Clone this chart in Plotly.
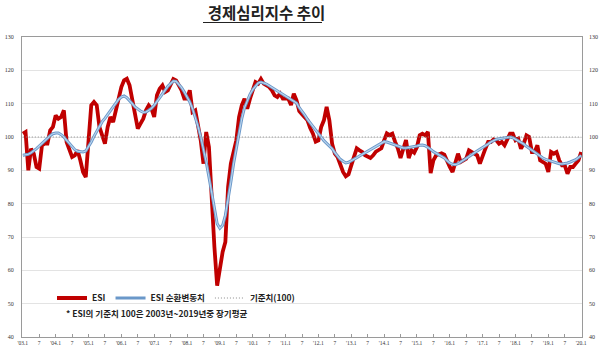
import plotly.graph_objects as go

# Monthly data, 2003.01 .. 2020.01
start_year = 2003
end_year = 2020

esi = [
    101, 101.5, 90, 96.5, 95, 91, 90.5, 97.5, 98, 98, 102, 103,          # 2003
    106.5, 105.5, 106, 108, 98.5, 96, 94, 94.5, 96, 93, 89.5, 88,        # 2004
    100, 109.5, 110.5, 109.5, 103, 100, 98, 103, 106, 104.5, 108, 111.5, # 2005
    115, 117, 117.5, 115.5, 111, 107, 102.5, 104, 105.5, 108, 109.5, 108.5,  # 2006
    106, 112.5, 114.5, 115.5, 113.5, 114, 115.5, 117.4, 117, 115.5, 114, 111.5,  # 2007
    111.5, 114, 107.5, 108, 104, 99, 92, 101.5, 97, 81, 67, 55.4,        # 2008
    61.5, 65.5, 68.5, 85, 92, 96, 99, 106, 109.5, 111.5, 108.5, 111.5,   # 2009
    114.5, 116.5, 116, 117.4, 116, 115.5, 115, 114, 112.5, 112, 113, 111.5,  # 2010
    111.5, 111.5, 109.6, 113, 111, 107.8, 106.8, 106, 105, 102.7, 101, 98.6,  # 2011
    99, 103, 105, 109, 105, 98, 95, 94, 91.5, 89.5, 88.2, 88.8,          # 2012
    91.5, 94, 96.6, 96, 95.5, 94.5, 94.2, 93.7, 94.5, 95.6, 96.1, 96.6,  # 2013
    99, 101.1, 100.6, 101, 98.6, 96.6, 93.7, 96, 99.1, 93.7, 96, 95.3,   # 2014
    97, 100.5, 101, 100.5, 101.5, 89.2, 93, 94.5, 94.7, 95.1, 94.7, 92.5,  # 2015
    91, 89.5, 92, 95, 92.5, 93, 93.5, 96, 95.5, 95, 94.5, 92,            # 2016
    94.5, 96.5, 98.5, 98.5, 99.3, 99, 98, 98.5, 97.5, 99.5, 101, 101,    # 2017
    99, 99.5, 96.5, 98, 100.5, 100, 95.5, 95.5, 97.5, 93, 92.5, 92,      # 2018
    89.5, 95.5, 95, 95.5, 93, 91.5, 91.5, 89, 91, 91, 92, 93,            # 2019
    95.5,                                                                # 2020.01
]

esi_cycle = [
    94.5, 94.6, 94.8, 95.3, 95.8, 96.5, 97.3, 98, 98.8, 99.6, 100.4, 101,        # 2003
    101.2, 101.2, 100.7, 100, 99, 98, 97, 96.2, 95.7, 95.5, 95.5, 95.8,          # 2004
    97, 98.5, 100.2, 101.8, 103.3, 104.6, 105.6, 106.8, 108, 109.2, 110.3, 111.3,  # 2005
    112, 112.3, 111.8, 111, 110, 109, 108.3, 107.8, 107.4, 107.5, 108, 108.6,    # 2006
    109.5, 110.7, 112, 113.2, 114.3, 115.2, 116, 116.8, 116.7, 115.8, 114.8, 113.5,  # 2007
    112, 110.5, 108.5, 106, 103.2, 100, 96.5, 92.5, 88, 83, 78, 74,              # 2008
    72.6, 73.5, 76.5, 81, 86.5, 92, 96.8, 101.5, 105.5, 108.8, 111, 112.8,       # 2009
    114.2, 115.3, 116.2, 116.5, 116.3, 115.9, 115.4, 114.9, 114.3, 113.7, 113.2, 112.7,  # 2010
    112.2, 111.7, 111.3, 110.8, 110.2, 108.8, 107.8, 106.6, 105.3, 104.2, 103.2, 101.9,  # 2011
    100.8, 99.8, 98.9, 98.1, 97.4, 96.5, 95.3, 94.3, 93.3, 92.7, 92.2, 92.4,     # 2012
    92.8, 93.2, 93.8, 94.3, 94.8, 95.3, 95.8, 96.3, 96.7, 97.2, 97.7, 98.2,      # 2013
    98.6, 98.5, 98.2, 97.8, 97.4, 97.1, 97, 96.7, 96.7, 96.8, 97, 97.1,          # 2014
    97.3, 97.5, 97.6, 97.4, 96.9, 96.3, 95.6, 95.1, 94.6, 94.1, 93.7, 92.9,      # 2015
    92.2, 91.8, 91.7, 92, 92.5, 93, 93.5, 94.1, 94.7, 95.3, 95.8, 96.3,          # 2016
    96.7, 97.3, 97.9, 98.5, 99, 99.3, 99.5, 99.6, 99.8, 99.9, 100, 99.8,         # 2017
    99.3, 98.9, 98.5, 97.9, 97.2, 96.6, 96, 95.4, 94.8, 94.3, 93.7, 93.3,        # 2018
    93, 92.7, 92.4, 92.2, 92, 91.9, 92, 92.2, 92.5, 92.8, 93.2, 93.8,            # 2019
    94.5,                                                                        # 2020.01
]

baseline_value = 100
y_ticks = [40, 50, 60, 70, 80, 90, 100, 110, 120, 130]

month_index = list(range(len(esi)))
baseline = [baseline_value] * len(esi)

tick_vals = []
tick_text = []
for i in range(0, len(esi), 6):
    year = start_year + i // 12
    if i % 12 == 0:
        tick_text.append("'%02d.1" % (year % 100))
    else:
        tick_text.append("7")
    tick_vals.append(i)

KFONT = "Noto Sans CJK KR"

# plot area in pixels
L, R, T, B = 22, 18, 37, 17
PW = 600 - L - R
PH = 354 - T - B


def px_x(p):
    return (p - L) / PW


def px_y(p):
    return (354 - B - p) / PH


fig = go.Figure()

fig.add_trace(go.Scatter(
    x=month_index, y=esi, mode="lines", name="ESI",
    line=dict(color="#C00000", width=3.8), legendrank=1,
))
fig.add_trace(go.Scatter(
    x=month_index, y=esi_cycle, mode="lines", name="ESI 순환변동치",
    line=dict(color="#6a98c9", width=3.0), legendrank=2,
    legendgroup="cyc",
))
fig.add_trace(go.Scatter(
    x=month_index, y=esi_cycle, mode="lines", name="ESI 순환변동치",
    line=dict(color="#bcd6ef", width=1.1), showlegend=False,
    legendgroup="cyc",
))
fig.add_trace(go.Scatter(
    x=month_index, y=baseline, mode="lines", name="기준치(100)",
    line=dict(color="#8c8c8c", width=1, dash="1px,2px"), yaxis="y2",
    legendrank=3,
))

axis_line = "#9a9a9a"
tick_font = dict(family="Liberation Serif", size=6, color="#333")

fig.update_layout(
    width=600, height=354,
    margin=dict(l=L, r=R, t=T, b=B),
    paper_bgcolor="white", plot_bgcolor="white",
    showlegend=True,
    hovermode=False,
    title=dict(
        text="<b>경제심리지수 추이</b>",
        font=dict(family=KFONT, size=15.5, color="#222"),
        x=262 / 600, xanchor="center", xref="paper",
        y=1 - 14 / 354, yanchor="middle", yref="container",
    ),
    legend=dict(
        orientation="h", x=px_x(52), y=px_y(298), xanchor="left", yanchor="middle",
        font=dict(family=KFONT, size=8.5, color="#222", weight="bold"),
        bgcolor="rgba(0,0,0,0)", traceorder="normal",
        itemwidth=30,
    ),
    xaxis=dict(
        range=[-0.3, len(esi) - 0.7], automargin=False,
        tickmode="array", tickvals=tick_vals, ticktext=tick_text,
        tickfont=dict(family="Liberation Serif", size=5.5, color="#333"),
        ticks="inside", ticklen=3, tickcolor=axis_line,
        showline=True, linecolor=axis_line, linewidth=1, mirror=True,
        showgrid=False, zeroline=False, tickangle=0,
    ),
    yaxis=dict(
        range=[40, 130], tickvals=y_ticks, automargin=False,
        tickfont=tick_font,
        showline=True, linecolor=axis_line, linewidth=1, mirror=True,
        showgrid=True, gridcolor="#e3e3e3", gridwidth=1, zeroline=False,
        ticklabelstandoff=6,
    ),
    yaxis2=dict(
        range=[40, 130], tickvals=y_ticks, overlaying="y", side="right",
        anchor="x", automargin=False,
        tickfont=tick_font,
        showgrid=False, zeroline=False, showline=False,
        ticklabelstandoff=6,
    ),
)

# title underline
fig.add_shape(
    type="line", xref="paper", yref="paper",
    x0=px_x(203), x1=px_x(322), y0=px_y(22.5), y1=px_y(22.5),
    line=dict(color="#222", width=1.2),
)

fig.add_annotation(
    text="<b>* ESI의 기준치 100은 2003년~2019년중 장기평균</b>",
    xref="paper", yref="paper", x=px_x(64), y=px_y(313),
    xanchor="left", yanchor="middle", showarrow=False,
    font=dict(family=KFONT, size=8.5, color="#222"),
)

fig.write_html("out.html")
